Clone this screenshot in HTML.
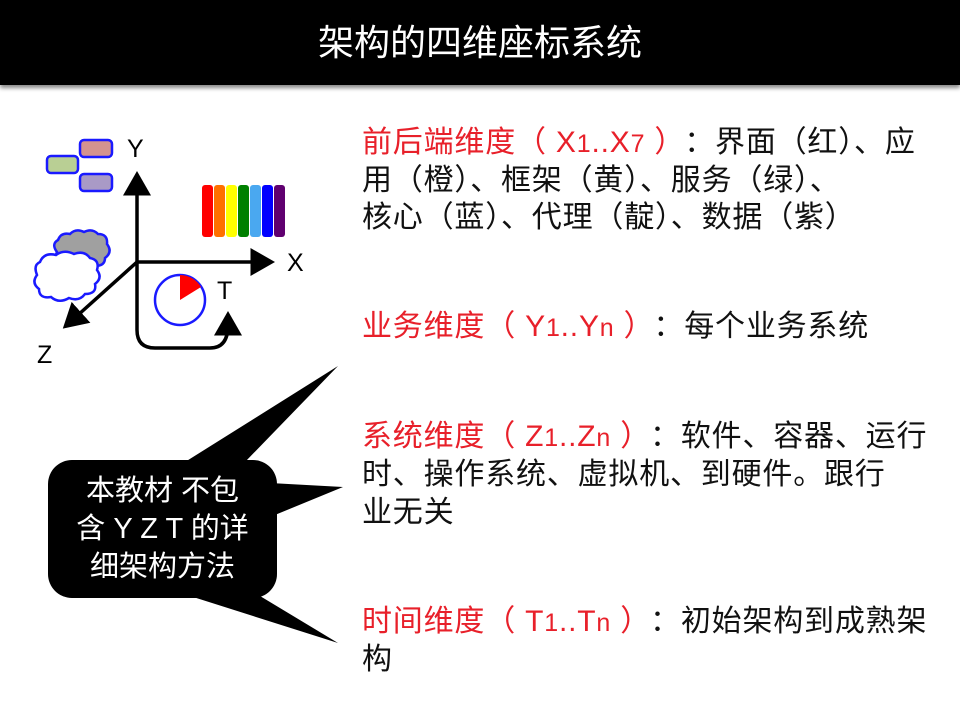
<!DOCTYPE html>
<html><head><meta charset="utf-8"><style>
body{margin:0;width:960px;height:720px;background:#fff;position:relative;overflow:hidden;font-family:"Liberation Sans","Noto Sans CJK SC",sans-serif}
.bar{position:absolute;left:0;top:0;width:960px;height:85px;background:#000;box-shadow:0 3px 4px #888}
.title{position:absolute;left:0;top:0;width:960px;height:85px;line-height:85px;text-align:center;color:#fff;font-size:36px}
.l{position:absolute;left:362px;font-size:30px;letter-spacing:0.8px;line-height:38px;white-space:nowrap;color:#111}
.r{color:#e8202a;margin-right:14px}
.call{position:absolute;left:48px;top:460px;width:229px;height:138px;background:#000;border-radius:24px;color:#fff;font-size:29px;line-height:38px;text-align:center;padding-top:12px;box-sizing:border-box;white-space:nowrap}
</style></head><body>
<div class="bar"></div><div class="title">架构的四维座标系统</div>
<svg width="960" height="720" style="position:absolute;left:0;top:0">
<defs><marker id="a" markerWidth="8" markerHeight="8" refX="5" refY="4" orient="auto" markerUnits="strokeWidth"><path d="M0,0 L7,4 L0,8z" fill="#000"/></marker></defs>
<g stroke="#000" stroke-width="3.5" fill="none">
<line x1="137" y1="262" x2="137" y2="178" marker-end="url(#a)"/>
<line x1="137" y1="262" x2="268" y2="262" marker-end="url(#a)"/>
<line x1="137" y1="262" x2="68" y2="324" marker-end="url(#a)"/>
<path d="M137,262 L137,330 Q137,348 155,348 L210,348 Q228,348 228,325 L228,318" marker-end="url(#a)"/>
</g>
<g fill="#fff" stroke="#1a1aff" stroke-width="2.5">
<rect x="80" y="140" width="32" height="17" rx="4" fill="#d4938f"/>
<rect x="47" y="156" width="31" height="17" rx="4" fill="#b9cf94"/>
<rect x="80" y="174" width="32" height="17" rx="4" fill="#a99ac6"/>
<path d="M58,240 q3,-8 12,-6 q6,-6 14,-2 q8,-4 14,2 q10,0 9,10 q6,8 -2,14 q0,8 -10,8 l-34,0 q-8,-6 -4,-14 q-6,-8 1,-12z" fill="#a0a0a0"/>
<path d="M40,262 q4,-10 16,-7 q8,-6 18,-1 q10,-4 16,4 q10,2 7,12 q6,8 -2,14 q2,10 -10,10 q-6,8 -16,4 q-10,6 -18,-1 q-12,2 -12,-8 q-8,-6 -2,-14 q-4,-10 3,-13z"/>
<circle cx="180" cy="300" r="25"/>
</g>
<path d="M180,300 L180,275 A25,25 0 0 1 201,287 Z" fill="#f00"/>
<g>
<rect x="202" y="185" width="11" height="52" rx="3" fill="#f00"/>
<rect x="214" y="185" width="11" height="52" rx="3" fill="#ff7000"/>
<rect x="226" y="185" width="11" height="52" rx="3" fill="#ff0"/>
<rect x="238" y="185" width="11" height="52" rx="3" fill="#008000"/>
<rect x="250" y="185" width="11" height="52" rx="3" fill="#4aa8f0"/>
<rect x="262" y="185" width="11" height="52" rx="3" fill="#0000ff"/>
<rect x="274" y="185" width="11" height="52" rx="3" fill="#600070"/>
</g>
<g font-family="Liberation Sans,sans-serif" font-size="25" fill="#000">
<text x="127" y="157">Y</text><text x="287" y="271">X</text><text x="37" y="363">Z</text><text x="217" y="299">T</text>
</g>
<path d="M185,462 L338,366 L245,462Z M270,483 L343,487 L270,517Z M190,596 L338,643 L260,596Z" fill="#000"/>
</svg>
<div class="call">本教材 不包<br>含 Y Z T 的详<br>细架构方法</div>
<div class="l" style="top:124px"><span class="r">前后端维度（ X<small>1</small>..X<small>7</small> ）</span>：界面（红）、应</div>
<div class="l" style="top:162px">用（橙）、框架（黄）、服务（绿）、</div>
<div class="l" style="top:199px">核心（蓝）、代理（靛）、数据（紫）</div>
<div class="l" style="top:308px"><span class="r">业务维度（ Y<small>1</small>..Y<small>n</small> ）</span>：每个业务系统</div>
<div class="l" style="top:418px"><span class="r">系统维度（ Z<small>1</small>..Z<small>n</small> ）</span>：软件、容器、运行</div>
<div class="l" style="top:456px">时、操作系统、虚拟机、到硬件。跟行</div>
<div class="l" style="top:494px">业无关</div>
<div class="l" style="top:603px"><span class="r">时间维度（ T<small>1</small>..T<small>n</small> ）</span>：初始架构到成熟架</div>
<div class="l" style="top:641px">构</div>
</body></html>
